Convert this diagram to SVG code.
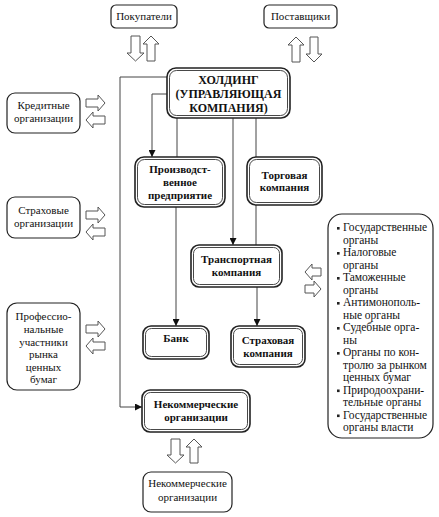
<svg xmlns="http://www.w3.org/2000/svg" width="439" height="517" viewBox="0 0 439 517" font-family="'Liberation Serif', 'DejaVu Serif', serif">
<style>
  .bg{fill:#fff}
  .box{fill:#fff;stroke:#222;stroke-width:1.2}
  .dbo{fill:#fff;stroke:#222;stroke-width:1.6}
  .dbi{fill:none;stroke:#333;stroke-width:0.9}
  text{font-family:'Liberation Serif','DejaVu Serif',serif}
  .t{font-size:11px;fill:#111;text-anchor:middle}
  .b{font-size:11px;font-weight:bold;fill:#111;text-anchor:middle}
  .h{font-size:12px;font-weight:bold;fill:#111;text-anchor:middle}
  .l{font-size:11.5px;fill:#111;text-anchor:start}
  .con{fill:none;stroke:#444;stroke-width:1}
  .blk{fill:#fff;stroke:#555;stroke-width:1}
  .bul{fill:#222}
</style>
<defs>
  <marker id="ah" viewBox="0 0 10 10" refX="10" refY="5" markerWidth="7" markerHeight="7" markerUnits="userSpaceOnUse" orient="auto">
    <path d="M0,0 L10,5 L0,10 Z" fill="#111"/>
  </marker>
</defs>
<rect class="bg" x="0" y="0" width="439" height="517"/>

<g id="connectors">
  <polyline class="con" points="167,77 120,77 120,407 142,407" marker-end="url(#ah)"/>
  <polyline class="con" points="167,94 152,94 152,157" marker-end="url(#ah)"/>
  <line class="con" x1="177" y1="118" x2="177" y2="157"/>
  <line class="con" x1="233" y1="118" x2="233" y2="245" marker-end="url(#ah)"/>
  <line class="con" x1="256" y1="118" x2="256" y2="157"/>
  <line class="con" x1="256" y1="205" x2="256" y2="245"/>
  <line class="con" x1="176" y1="207" x2="176" y2="326" marker-end="url(#ah)"/>
  <line class="con" x1="257" y1="287" x2="257" y2="326" marker-end="url(#ah)"/>
</g>

<g id="block-arrows">
  <polygon class="blk" points="131,36 140,36 140,53 144,53 135.5,61 127,53 131,53"/>
  <polygon class="blk" points="147,61 155,61 155,44 159,44 151,36 143,44 147,44"/>
  <polygon class="blk" points="292,62 300,62 300,45 304,45 296,37 288,45 292,45"/>
  <polygon class="blk" points="310,37 318,37 318,54 322,54 314,62 306,54 310,54"/>
  <polygon class="blk" points="171,439 180,439 180,455 184,455 175.5,463 167,455 171,455"/>
  <polygon class="blk" points="190,463 198,463 198,447 202,447 194,439 186,447 190,447"/>
  <polygon class="blk" points="86,99 98,99 98,95 105,103 98,111 98,107 86,107"/>
  <polygon class="blk" points="105,116 93,116 93,112 86,120 93,128 93,124 105,124"/>
  <polygon class="blk" points="86,211 98,211 98,207 105,215 98,223 98,219 86,219"/>
  <polygon class="blk" points="105,228 93,228 93,224 86,232 93,240 93,236 105,236"/>
  <polygon class="blk" points="86,325 98,325 98,321 105,329 98,337 98,333 86,333"/>
  <polygon class="blk" points="105,342 93,342 93,338 86,346 93,354 93,350 105,350"/>
  <polygon class="blk" points="321,268 312,268 312,264 305,272 312,280 312,276 321,276"/>
  <polygon class="blk" points="305,285 314,285 314,281 321,289 314,297 314,293 305,293"/>
</g>

<g id="pokupateli">
  <rect class="box" x="111" y="5" width="66" height="23" rx="5"/>
  <text class="t" x="144" y="20">Покупатели</text>
</g>
<g id="postavshchiki">
  <rect class="box" x="264" y="5" width="73" height="23" rx="5"/>
  <text class="t" x="300.5" y="20">Поставщики</text>
</g>

<g id="holding">
  <rect class="dbo" x="167" y="68" width="123" height="50" rx="9"/>
  <rect class="dbi" x="169.5" y="70.5" width="118" height="45" rx="7"/>
  <text class="h" x="228.5" y="84">ХОЛДИНГ</text>
  <text class="h" x="228.5" y="98">(УПРАВЛЯЮЩАЯ</text>
  <text class="h" x="228.5" y="112">КОМПАНИЯ)</text>
</g>

<g id="kreditnye">
  <rect class="box" x="7" y="93" width="73" height="40" rx="8"/>
  <text class="t" x="43.5" y="109">Кредитные</text>
  <text class="t" x="43.5" y="122">организации</text>
</g>
<g id="strakhovye">
  <rect class="box" x="7" y="197" width="73" height="41" rx="8"/>
  <text class="t" x="43.5" y="214">Страховые</text>
  <text class="t" x="43.5" y="227">организации</text>
</g>
<g id="professionalnye">
  <rect class="box" x="7" y="303" width="73" height="87" rx="10"/>
  <text class="t" x="43.5" y="320">Профессио-</text>
  <text class="t" x="43.5" y="332.5">нальные</text>
  <text class="t" x="43.5" y="345.5">участники</text>
  <text class="t" x="43.5" y="358">рынка</text>
  <text class="t" x="43.5" y="370.5">ценных</text>
  <text class="t" x="43.5" y="383">бумаг</text>
</g>

<g id="proizvodstvennoe">
  <rect class="dbo" x="135" y="157" width="90" height="50" rx="9"/>
  <rect class="dbi" x="137.5" y="159.5" width="85" height="45" rx="7"/>
  <text class="b" x="180" y="173">Производст-</text>
  <text class="b" x="180" y="186">венное</text>
  <text class="b" x="180" y="199">предприятие</text>
</g>
<g id="torgovaya">
  <rect class="dbo" x="247" y="157" width="75" height="48" rx="9"/>
  <rect class="dbi" x="249.5" y="159.5" width="70" height="43" rx="7"/>
  <text class="b" x="284.5" y="179">Торговая</text>
  <text class="b" x="284.5" y="191">компания</text>
</g>
<g id="transportnaya">
  <rect class="dbo" x="191" y="245" width="91" height="42" rx="8"/>
  <rect class="dbi" x="193.5" y="247.5" width="86" height="37" rx="6"/>
  <text class="b" x="236.5" y="263">Транспортная</text>
  <text class="b" x="236.5" y="276">компания</text>
</g>
<g id="bank">
  <rect class="dbo" x="143" y="326" width="66" height="33" rx="8"/>
  <rect class="dbi" x="145.5" y="328.5" width="61" height="28" rx="6"/>
  <text class="b" x="176" y="342">Банк</text>
</g>
<g id="strakhovaya">
  <rect class="dbo" x="231" y="326" width="74" height="41" rx="8"/>
  <rect class="dbi" x="233.5" y="328.5" width="69" height="36" rx="6"/>
  <text class="b" x="268" y="344">Страховая</text>
  <text class="b" x="268" y="357">компания</text>
</g>
<g id="nekommercheskie">
  <rect class="dbo" x="142" y="390" width="108" height="42" rx="8"/>
  <rect class="dbi" x="144.5" y="392.5" width="103" height="37" rx="6"/>
  <text class="b" x="196" y="408">Некоммерческие</text>
  <text class="b" x="196" y="421">организации</text>
</g>

<g id="gov-organs">
  <rect class="box" x="328" y="214" width="105" height="224" rx="14"/>
  <rect class="bul" x="337" y="227" width="2.6" height="2.6"/>
  <rect class="bul" x="337" y="252" width="2.6" height="2.6"/>
  <rect class="bul" x="337" y="277" width="2.6" height="2.6"/>
  <rect class="bul" x="337" y="302" width="2.6" height="2.6"/>
  <rect class="bul" x="337" y="327" width="2.6" height="2.6"/>
  <rect class="bul" x="337" y="352" width="2.6" height="2.6"/>
  <rect class="bul" x="337" y="389.5" width="2.6" height="2.6"/>
  <rect class="bul" x="337" y="414.5" width="2.6" height="2.6"/>
  <text class="l" x="343" y="231">Государственные</text>
  <text class="l" x="343" y="243.5">органы</text>
  <text class="l" x="343" y="256">Налоговые</text>
  <text class="l" x="343" y="268.5">органы</text>
  <text class="l" x="343" y="281">Таможенные</text>
  <text class="l" x="343" y="293.5">органы</text>
  <text class="l" x="343" y="306">Антимонополь-</text>
  <text class="l" x="343" y="318.5">ные органы</text>
  <text class="l" x="343" y="331">Судебные орга-</text>
  <text class="l" x="343" y="343.5">ны</text>
  <text class="l" x="343" y="356">Органы по кон-</text>
  <text class="l" x="343" y="368.5">тролю за рынком</text>
  <text class="l" x="343" y="381">ценных бумаг</text>
  <text class="l" x="343" y="393.5">Природоохрани-</text>
  <text class="l" x="343" y="406">тельные органы</text>
  <text class="l" x="343" y="418.5">Государственные</text>
  <text class="l" x="343" y="431">органы власти</text>
</g>

<g id="nekommercheskie-ext">
  <rect class="box" x="143" y="472" width="89" height="40" rx="8"/>
  <text class="t" x="187.5" y="487">Некоммерческие</text>
  <text class="t" x="187.5" y="501">организации</text>
</g>
</svg>
